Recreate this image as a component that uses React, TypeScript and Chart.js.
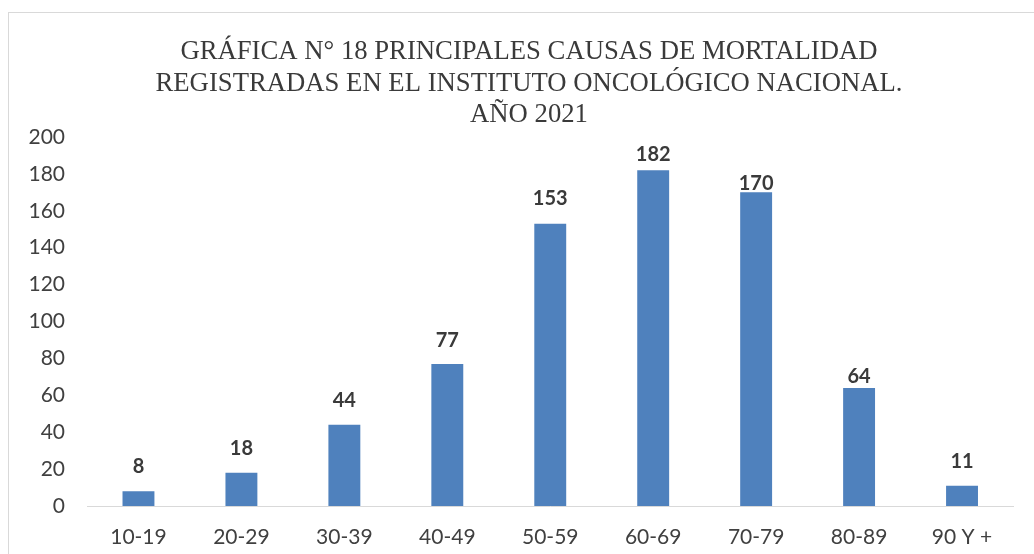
import React, { useEffect, useRef } from "react";
import { Chart, registerables } from "chart.js";

Chart.register(...registerables);

const categories = ["10-19", "20-29", "30-39", "40-49", "50-59", "60-69", "70-79", "80-89", "90 Y +"];
const deaths = [8, 18, 44, 77, 153, 182, 170, 64, 11];
const yTicks = [0, 20, 40, 60, 80, 100, 120, 140, 160, 180, 200];
const titleLines = [
  "GRÁFICA N° 18 PRINCIPALES CAUSAS DE MORTALIDAD",
  "REGISTRADAS EN EL INSTITUTO ONCOLÓGICO NACIONAL.",
  "AÑO 2021",
];
// gap (px) between each bar top and its value label, as placed in the original
const labelGaps = [18, 18, 18, 17, 19, 9, 2, 5, 18];

const LABEL_FONT = "Lato, 'Open Sans', sans-serif";

const framePlugin = {
  id: "frame",
  beforeDraw(chart: any) {
    const ctx = chart.ctx;
    ctx.save();
    ctx.fillStyle = "#ffffff";
    ctx.fillRect(0, 0, chart.width, chart.height);
    ctx.strokeStyle = "#d9d9d9";
    ctx.lineWidth = 1;
    ctx.strokeRect(8.5, 12.5, chart.width + 20, chart.height + 20);
    ctx.restore();
  },
};

const titlePlugin = {
  id: "serifTitle",
  afterDraw(chart: any) {
    const ctx = chart.ctx;
    ctx.save();
    ctx.font = "28px 'Liberation Serif', 'Times New Roman', serif";
    ctx.fillStyle = "#3a3a3a";
    ctx.textAlign = "center";
    ctx.textBaseline = "alphabetic";
    const natural = ctx.measureText(titleLines[1]).width;
    const sx = 747 / natural;
    const cx = 529;
    const baselines = [59, 91, 122];
    titleLines.forEach((line, i) => {
      ctx.save();
      ctx.translate(cx, baselines[i]);
      ctx.scale(sx, 1);
      ctx.fillText(line, 0, 0);
      ctx.restore();
    });
    ctx.restore();
  },
};

const valueLabelPlugin = {
  id: "valueLabels",
  afterDatasetsDraw(chart: any) {
    const ctx = chart.ctx;
    const meta = chart.getDatasetMeta(0);
    ctx.save();
    ctx.font = `bold 20px ${LABEL_FONT}`;
    ctx.fillStyle = "#3a3a3a";
    ctx.textAlign = "center";
    ctx.textBaseline = "alphabetic";
    meta.data.forEach((bar: any, i: number) => {
      ctx.fillText(String(chart.data.datasets[0].data[i]), bar.x, bar.y - labelGaps[i]);
    });
    ctx.restore();
  },
};

export default function App() {
  const canvasRef = useRef<HTMLCanvasElement | null>(null);

  useEffect(() => {
    const canvas = canvasRef.current;
    if (!canvas) return;
    const chart = new Chart(canvas, {
      type: "bar",
      data: {
        labels: categories,
        datasets: [
          {
            data: deaths,
            backgroundColor: "#4F81BD",
            borderWidth: 0,
            barPercentage: 0.62,
            categoryPercentage: 0.5,
          },
        ],
      },
      options: {
        responsive: false,
        animation: false,
        devicePixelRatio: 1,
        layout: { padding: { top: 137, right: 20.5, bottom: 0, left: 0 } },
        plugins: {
          legend: { display: false },
          title: { display: false },
          tooltip: { enabled: false },
        },
        scales: {
          x: {
            grid: { display: false, drawTicks: false },
            border: { display: true, color: "#d9d9d9", width: 1 },
            ticks: {
              color: "#404040",
              font: { family: LABEL_FONT, size: 21 },
              padding: 19,
              maxRotation: 0,
            },
            afterFit(scale: any) {
              scale.height = 48;
            },
          },
          y: {
            min: 0,
            max: 200,
            afterBuildTicks(scale: any) {
              scale.ticks = yTicks.map((v) => ({ value: v }));
            },
            grid: { display: false, drawTicks: false },
            border: { display: false },
            ticks: {
              color: "#404040",
              font: { family: LABEL_FONT, size: 21 },
              padding: 22,
            },
            afterFit(scale: any) {
              scale.width = 87;
            },
          },
        },
      },
      plugins: [framePlugin, titlePlugin, valueLabelPlugin],
    });
    return () => chart.destroy();
  }, []);

  return (
    <canvas
      ref={canvasRef}
      width={1034}
      height={554}
      style={{ position: "fixed", left: 0, top: 0, width: 1034, height: 554, display: "block" }}
    />
  );
}
